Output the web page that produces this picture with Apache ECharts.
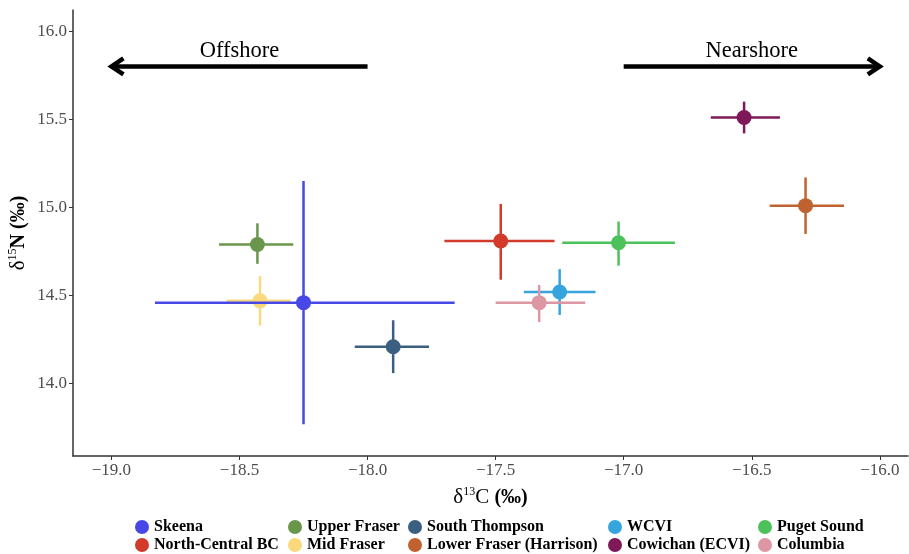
<!DOCTYPE html>
<html>
<head>
<meta charset="utf-8">
<script src="https://cdn.jsdelivr.net/npm/echarts@6/dist/echarts.min.js"></script>
<style>
  html, body { margin: 0; padding: 0; background: #fff; }
  #chart { width: 909px; height: 554px; }
</style>
</head>
<body>
<div id="chart"></div>
<script>
// populations, in legend (column-wise) order
const populations = ['Skeena', 'North-Central BC', 'Upper Fraser', 'Mid Fraser', 'South Thompson',
    'Lower Fraser (Harrison)', 'WCVI', 'Cowichan (ECVI)', 'Puget Sound', 'Columbia'];
const colors = ['#4848e6', '#d23b2b', '#6a964c', '#fbd87c', '#3b5f80',
    '#c0622f', '#36a4dd', '#7e1858', '#4dc25b', '#dd96a3'];

// mean and error range for each population
const d13C     = [-18.25, -17.48, -18.43, -18.42, -17.90, -16.29, -17.25, -16.53, -17.02, -17.33];
const d13CLow  = [-18.83, -17.70, -18.58, -18.55, -18.05, -16.43, -17.39, -16.66, -17.24, -17.50];
const d13CHigh = [-17.66, -17.27, -18.29, -18.30, -17.76, -16.14, -17.11, -16.39, -16.80, -17.15];
const d15N     = [14.46, 14.81, 14.79, 14.47, 14.21, 15.01, 14.52, 15.51, 14.80, 14.46];
const d15NLow  = [13.77, 14.59, 14.68, 14.33, 14.06, 14.85, 14.39, 15.42, 14.67, 14.35];
const d15NHigh = [15.15, 15.02, 14.91, 14.61, 14.36, 15.17, 14.65, 15.60, 14.92, 14.56];

// axis ticks
const xTicks = [-19.0, -18.5, -18.0, -17.5, -17.0, -16.5, -16.0];
const yTicks = [14.0, 14.5, 15.0, 15.5, 16.0];

// direction arrows
const arrowLabels = ['Offshore', 'Nearshore'];
const arrowStarts = [-18.0, -17.0];
const arrowEnds = [-19.0, -16.0];
const arrowY = 15.8;
const arrowLabelY = 15.9;

const serif = '"Liberation Serif", "Times New Roman", serif';
const chart = echarts.init(document.getElementById('chart'));

const pointSeries = populations.map((name, i) => ({
    name: name,
    type: 'scatter',
    symbol: 'circle',
    symbolSize: 15,
    itemStyle: { color: colors[i], opacity: 1 },
    data: [[d13C[i], d15N[i]]],
    z: 2
}));

const errorSeries = populations.map((name, i) => ({
    name: name,
    type: 'custom',
    itemStyle: { color: colors[i] },
    data: [[d13C[i], d15N[i], d13CLow[i], d13CHigh[i], d15NLow[i], d15NHigh[i]]],
    renderItem: (params, api) => {
        const xl = api.coord([api.value(2), api.value(1)]);
        const xh = api.coord([api.value(3), api.value(1)]);
        const yl = api.coord([api.value(0), api.value(4)]);
        const yh = api.coord([api.value(0), api.value(5)]);
        const style = { stroke: colors[i], lineWidth: 2.5 };
        return {
            type: 'group',
            children: [
                { type: 'line', shape: { x1: xl[0], y1: xl[1], x2: xh[0], y2: xh[1] }, style: style },
                { type: 'line', shape: { x1: yl[0], y1: yl[1], x2: yh[0], y2: yh[1] }, style: style }
            ]
        };
    },
    // Skeena's wide bars sit on top of the others, as in the original
    z: i === 0 ? 4 : 3
}));

const arrowSeries = {
    type: 'custom',
    silent: true,
    data: arrowLabels.map((t, i) => [arrowStarts[i], arrowY, arrowEnds[i], arrowLabelY]),
    renderItem: (params, api) => {
        const p0 = api.coord([api.value(0), api.value(1)]);
        const p1 = api.coord([api.value(2), api.value(1)]);
        const pt = api.coord([(api.value(0) + api.value(2)) / 2, api.value(3)]);
        const dir = p1[0] > p0[0] ? 1 : -1;
        const style = { stroke: '#000', lineWidth: 4.5, fill: null };
        return {
            type: 'group',
            children: [
                { type: 'line', shape: { x1: p0[0], y1: p0[1], x2: p1[0] - dir * 2, y2: p1[1] }, style: style },
                {
                    type: 'polyline',
                    shape: { points: [[p1[0] - dir * 12, p1[1] - 8], [p1[0], p1[1]], [p1[0] - dir * 12, p1[1] + 8]] },
                    style: Object.assign({ lineJoin: 'miter' }, style)
                },
                {
                    type: 'text',
                    style: {
                        text: arrowLabels[params.dataIndex],
                        x: pt[0], y: pt[1] + 2,
                        align: 'center', verticalAlign: 'middle',
                        font: '22.5px ' + serif, fill: '#000'
                    }
                }
            ]
        };
    },
    z: 5
};

// legend laid out in 5 columns of 2 rows, like the original
const legendLefts = [135, 288, 408, 608, 758];
const legends = legendLefts.map((left, c) => ({
    orient: 'vertical',
    left: left,
    top: 519,
    padding: 0,
    itemGap: 2,
    itemWidth: 14,
    itemHeight: 14,
    icon: 'circle',
    data: [populations[c * 2], populations[c * 2 + 1]],
    textStyle: { fontFamily: serif, fontWeight: 'bold', fontSize: 16, color: '#000' },
    selectedMode: false
}));

const option = {
    animation: false,
    backgroundColor: '#fff',
    grid: { left: 73, right: 1, top: 10, bottom: 98, containLabel: false, outerBoundsMode: 'none' },
    legend: legends,
    xAxis: {
        type: 'value',
        min: -19.15,
        max: -15.89,
        splitLine: { show: false },
        axisLine: { onZero: false, lineStyle: { color: '#333', width: 1.5 } },
        axisTick: { customValues: xTicks, length: 4, lineStyle: { color: '#333' } },
        axisLabel: {
            customValues: xTicks,
            margin: 6,
            fontFamily: serif, fontSize: 17, color: '#4d4d4d',
            formatter: v => v.toFixed(1).replace('-', '\u2212')
        },
        name: '{a|δ}{s|13}{a|C }{b|(‰)}',
        nameLocation: 'middle',
        nameGap: 30,
        nameMoveOverlap: false,
        nameTextStyle: {
            rich: {
                a: { fontFamily: serif, fontSize: 21, color: '#000', verticalAlign: 'bottom', lineHeight: 22 },
                b: { fontFamily: serif, fontSize: 20, fontWeight: 'bold', color: '#000', verticalAlign: 'bottom', lineHeight: 22 },
                s: { fontFamily: serif, fontSize: 12, color: '#000', verticalAlign: 'top', lineHeight: 22 }
            }
        }
    },
    yAxis: {
        type: 'value',
        min: 13.59,
        max: 16.12,
        splitLine: { show: false },
        axisLine: { show: true, onZero: false, lineStyle: { color: '#333', width: 1.5 } },
        axisTick: { show: true, customValues: yTicks, length: 4, lineStyle: { color: '#333' } },
        axisLabel: {
            customValues: yTicks,
            margin: 6,
            fontFamily: serif, fontSize: 17, color: '#4d4d4d',
            formatter: v => v.toFixed(1)
        },
        name: '{a|δ}{s|15}{b|N (‰)}',
        nameLocation: 'middle',
        nameGap: 44,
        nameRotate: 90,
        nameMoveOverlap: false,
        nameTextStyle: {
            rich: {
                a: { fontFamily: serif, fontSize: 21, color: '#000', verticalAlign: 'bottom', lineHeight: 22 },
                b: { fontFamily: serif, fontSize: 20, fontWeight: 'bold', color: '#000', verticalAlign: 'bottom', lineHeight: 22 },
                s: { fontFamily: serif, fontSize: 12, color: '#000', verticalAlign: 'top', lineHeight: 22 }
            }
        }
    },
    series: [...pointSeries, ...errorSeries, arrowSeries]
};

chart.setOption(option);
</script>
</body>
</html>
